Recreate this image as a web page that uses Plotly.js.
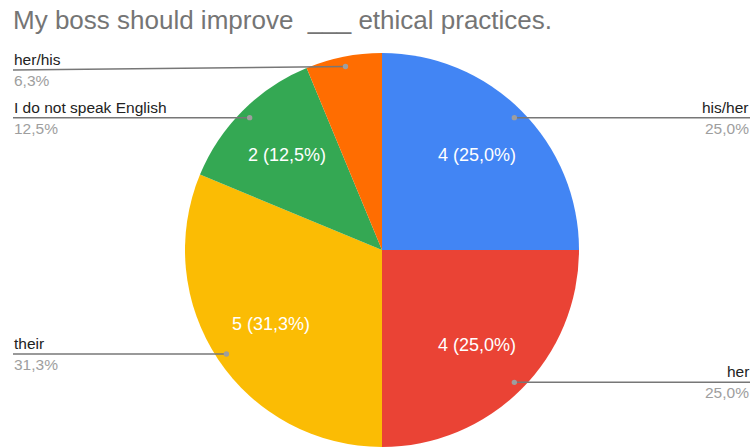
<!DOCTYPE html>
<html>
<head>
<meta charset="utf-8">
<script src="https://cdn.plot.ly/plotly-3.0.1.min.js"></script>
<style>html,body{margin:0;padding:0;background:#fff;}#chart{width:752px;height:448px;}</style>
</head>
<body>
<div id="chart"></div>
<script>
// ---- data ----
const categories = ['his/her', 'her', 'their', 'I do not speak English', 'her/his'];
const counts = [4, 4, 5, 2, 1];
const sliceColors = ['#4285F4', '#EA4335', '#FBBC04', '#34A853', '#FF6D01'];
const chartTitle = 'My boss should improve\u00a0 ___ ethical practices.';

// ---- layout constants ----
const W = 752, H = 448;
const cx = 382, cy = 250, R = 197;
const leftX = 13, rightX = 750, minLabelY = 70;
const insideR = 0.68, dotR = 0.95, minInsideShare = 0.1;
const font = 'Arial, "Liberation Sans", sans-serif';

const total = counts.reduce((a, b) => a + b, 0);
const fmtPct = v => (v / total * 100).toFixed(1).replace('.', ',') + '%';
const px2x = p => p / W;
const px2y = p => 1 - p / H;

const shapes = [];
const annotations = [];
let cum = 0;
counts.forEach((v, i) => {
  const mid = (cum + v / 2) / total * 2 * Math.PI;
  cum += v;
  const s = Math.sin(mid), c = Math.cos(mid);
  // inside value label
  if (v / total >= minInsideShare) {
    annotations.push({xref: 'paper', yref: 'paper',
      x: px2x(cx + insideR * R * s), y: px2y(cy - insideR * R * c),
      xanchor: 'center', yanchor: 'middle', showarrow: false,
      text: v + ' (' + fmtPct(v) + ')',
      font: {family: font, size: 18, color: '#ffffff'}});
  }
  // leader line + outside label
  const dx = cx + dotR * R * s;
  const dy = cy - dotR * R * c;
  const right = mid < Math.PI;
  const ly = Math.max(dy, minLabelY);
  const ex = right ? rightX : leftX;
  shapes.push({type: 'line', xref: 'paper', yref: 'paper',
    x0: px2x(dx), y0: px2y(dy), x1: px2x(ex), y1: px2y(ly),
    line: {color: '#777777', width: 1.5}});
  shapes.push({type: 'circle', xref: 'paper', yref: 'paper',
    x0: px2x(dx - 2.7), x1: px2x(dx + 2.7), y0: px2y(dy - 2.7), y1: px2y(dy + 2.7),
    fillcolor: '#9e9e9e', line: {width: 0}});
  annotations.push({xref: 'paper', yref: 'paper', x: px2x(ex), y: px2y(ly - 1),
    xanchor: right ? 'right' : 'left', yanchor: 'bottom', showarrow: false,
    text: categories[i], font: {family: font, size: 15.5, color: '#222222'}, borderpad: 0});
  annotations.push({xref: 'paper', yref: 'paper', x: px2x(ex), y: px2y(ly + 1),
    xanchor: right ? 'right' : 'left', yanchor: 'top', showarrow: false,
    text: fmtPct(v), font: {family: font, size: 15.5, color: '#9e9e9e'}, borderpad: 0});
});

const trace = {
  type: 'pie',
  labels: categories,
  values: counts,
  sort: false,
  direction: 'clockwise',
  rotation: 0,
  marker: {colors: sliceColors, line: {width: 0}},
  textinfo: 'none',
  hoverinfo: 'none',
  showlegend: false,
  domain: {x: [(cx - R) / W, (cx + R) / W], y: [1 - (cy + R) / H, 1 - (cy - R) / H]}
};

const layout = {
  width: W, height: H,
  margin: {l: 0, r: 0, t: 0, b: 0},
  paper_bgcolor: '#ffffff',
  separators: ',.',
  showlegend: false,
  title: {text: chartTitle, x: leftX / W, xanchor: 'left', xref: 'paper',
    y: 1 - 20 / H, yanchor: 'middle', yref: 'container',
    font: {family: font, size: 26, color: '#757575'}},
  shapes: shapes,
  annotations: annotations
};

Plotly.newPlot('chart', [trace], layout, {displayModeBar: false, staticPlot: true});
</script>
</body>
</html>
